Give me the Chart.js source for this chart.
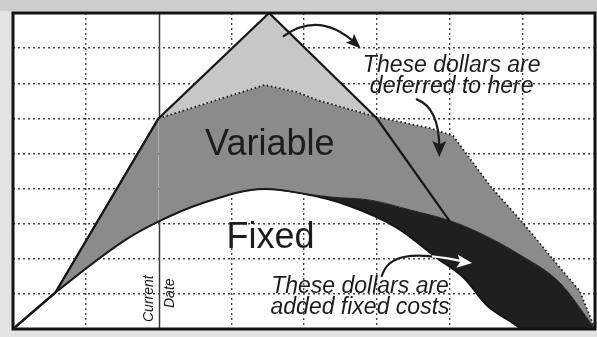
<!DOCTYPE html>
<html>
<head>
<meta charset="utf-8">
<script src="https://cdn.jsdelivr.net/npm/chart.js@4/dist/chart.umd.min.js"></script>
<style>
  html, body { margin: 0; padding: 0; background: #e2e2e2; }
  canvas { display: block; }
</style>
</head>
<body>
<canvas id="c" width="597" height="337"></canvas>
<script>
// Spending curve as originally planned (peak), in time units / dollar units
const peakX = [0, 0.58, 2.0, 3.52, 5.0, 6.0];
const peakY = [0, 1.03, 6.0, 9.0, 6.0, 3.08];

// Variable costs after deferral (top of the dark grey band)
const variableX = [0, 0.58, 2.0, 3.46, 3.9, 4.18, 5.0, 5.73, 6.05, 6.56, 7.01, 7.52, 7.79, 8.0];
const variableY = [0, 1.03, 6.0, 6.95, 6.75, 6.52, 6.04, 5.72, 5.5, 4.07, 3.02, 1.74, 1.08, 0];

// Fixed costs (top of the white area)
const fixedX = [0, 0.58, 1.54, 1.99, 2.57, 3.46, 3.95, 4.59, 5.28, 5.83, 6.2, 6.52, 6.83, 7.02, 8.0];
const fixedY = [0, 1.03, 2.53, 3.05, 3.56, 3.99, 3.87, 3.53, 2.88, 2.02, 1.45, 0.66, 0.23, 0, 0];

// Fixed costs including the added ones (top of the black band); follows the fixed curve until it splits
const addedX = fixedX.slice(0, 7).concat([4.36, 4.91, 5.46, 6.01, 6.42, 6.97, 7.52, 8.0]);
const addedY = fixedY.slice(0, 7).concat([3.76, 3.67, 3.39, 3.08, 2.73, 2.11, 1.31, 0]);

const currentDate = 2;

const xTicks = { min: 0, max: 8, step: 1 };
const yTicks = { min: 0, max: 9, step: 1 };

const pts = (xs, ys) => xs.map((x, i) => ({ x, y: ys[i] }));

const FONT = '"Liberation Sans", Arial, Helvetica, sans-serif';

// Background, white plot area and the current-date rule (below the fills)
const backdrop = {
  id: 'backdrop',
  beforeDraw(chart) {
    const { ctx, chartArea: a, scales } = chart;
    ctx.save();
    ctx.fillStyle = '#e3e3e3';
    ctx.fillRect(0, 0, chart.width, chart.height);
    ctx.fillStyle = '#cdcdcd';
    ctx.fillRect(0, 0, chart.width, a.top - 2);
    ctx.fillStyle = '#ffffff';
    ctx.fillRect(a.left, a.top, a.right - a.left, a.bottom - a.top);
    const x = Math.round(scales.x.getPixelForValue(currentDate)) + 0.5;
    ctx.strokeStyle = '#3a3a3a';
    ctx.lineWidth = 1.5;
    ctx.beginPath();
    ctx.moveTo(x, a.top);
    ctx.lineTo(x, a.bottom);
    ctx.stroke();
    ctx.restore();
  }
};

function arrowHead(ctx, tipX, tipY, fromX, fromY, len, half, color) {
  const ang = Math.atan2(tipY - fromY, tipX - fromX);
  ctx.save();
  ctx.translate(tipX, tipY);
  ctx.rotate(ang);
  ctx.fillStyle = color;
  ctx.beginPath();
  ctx.moveTo(0, 0);
  ctx.lineTo(-len, -half);
  ctx.lineTo(-len * 0.8, 0);
  ctx.lineTo(-len, half);
  ctx.closePath();
  ctx.fill();
  ctx.restore();
}

// Labels, arrows and frame
const notes = {
  id: 'notes',
  afterDraw(chart) {
    const { ctx, chartArea: a, scales } = chart;
    const X = v => scales.x.getPixelForValue(v);
    const Y = v => scales.y.getPixelForValue(v);
    ctx.save();

    ctx.fillStyle = '#1c1c1c';
    ctx.textAlign = 'center';
    ctx.textBaseline = 'alphabetic';
    ctx.font = '36px ' + FONT;
    ctx.fillText('Variable', X(3.53), Y(4.96));
    ctx.fillText('Fixed', X(3.54), Y(2.31));

    ctx.font = 'italic 23px ' + FONT;
    ctx.fillText('These dollars are', X(6.03), Y(7.32));
    ctx.fillText('deferred to here', X(6.03), Y(6.72));
    ctx.fillText('These dollars are', X(4.77), Y(1.03));
    ctx.fillText('added fixed costs', X(4.77), Y(0.44));

    // "Current | Date" written upwards on both sides of the rule
    ctx.font = 'italic 14px ' + FONT;
    ctx.textAlign = 'left';
    const cx = X(currentDate);
    ctx.save();
    ctx.translate(cx - 6, a.bottom - 7);
    ctx.rotate(-Math.PI / 2);
    ctx.fillText('Current', 0, 0);
    ctx.restore();
    ctx.save();
    ctx.translate(cx + 15, a.bottom - 21);
    ctx.rotate(-Math.PI / 2);
    ctx.fillText('Date', 0, 0);
    ctx.restore();

    ctx.lineWidth = 2.2;
    ctx.strokeStyle = '#1c1c1c';
    ctx.lineCap = 'round';

    // arrow: from the peak to the deferral note
    let p0 = [X(3.72), Y(8.34)], c = [X(4.22), Y(9.08)], p1 = [X(4.78), Y(7.99)];
    ctx.beginPath();
    ctx.moveTo(p0[0], p0[1]);
    ctx.quadraticCurveTo(c[0], c[1], p1[0] - 4, p1[1] - 4);
    ctx.stroke();
    arrowHead(ctx, p1[0], p1[1], c[0], c[1], 15, 6, '#1c1c1c');

    // arrow: from the note down into the deferred area
    p0 = [X(5.55), Y(6.54)]; c = [X(5.86), Y(6.3)]; p1 = [X(5.86), Y(4.9)];
    ctx.beginPath();
    ctx.moveTo(p0[0], p0[1]);
    ctx.quadraticCurveTo(c[0], c[1], p1[0], p1[1] - 8);
    ctx.stroke();
    arrowHead(ctx, p1[0], p1[1], c[0], c[1] - 10, 16, 7, '#1c1c1c');

    // arrow: from the note into the black band (white where it crosses the band)
    const s0 = [X(5.07), Y(1.51)], c1 = [X(5.15), Y(2.1)], c2 = [X(5.46), Y(2.25)], e = [X(6.31), Y(1.88)];
    const curve = () => {
      ctx.beginPath();
      ctx.moveTo(s0[0], s0[1]);
      ctx.bezierCurveTo(c1[0], c1[1], c2[0], c2[1], e[0] - 6, e[1] - 1);
    };
    curve();
    ctx.stroke();
    ctx.save();
    ctx.beginPath();
    ctx.rect(X(5.76), a.top, a.right - X(5.76), a.bottom - a.top);
    ctx.clip();
    ctx.strokeStyle = '#ffffff';
    curve();
    ctx.stroke();
    ctx.restore();
    arrowHead(ctx, e[0], e[1], c2[0], c2[1] + 6, 15, 6.5, '#ffffff');

    // frame
    ctx.lineWidth = 3;
    ctx.strokeStyle = '#141414';
    ctx.strokeRect(a.left, a.top, a.right - a.left, a.bottom - a.top);
    ctx.restore();
  }
};

const gridColor = (axis) => (ctx) => {
  const v = ctx.tick ? ctx.tick.value : null;
  const t = axis === 'x' ? xTicks : yTicks;
  if (v === t.min || v === t.max) return 'rgba(0,0,0,0)';
  if (axis === 'x' && v === currentDate) return 'rgba(0,0,0,0)';
  return '#4a4a4a';
};

new Chart(document.getElementById('c'), {
  type: 'line',
  data: {
    datasets: [
      {
        label: 'Planned',
        data: pts(peakX, peakY),
        borderColor: '#161616',
        borderWidth: 2.2,
        tension: 0,
        fill: { target: 1, above: '#c7c7c7', below: 'rgba(0,0,0,0)' }
      },
      {
        label: 'Variable',
        data: pts(variableX, variableY),
        borderColor: '#1e1e1e',
        borderWidth: 1.8,
        tension: 0,
        segment: { borderDash: c => c.p0.parsed.x >= currentDate ? [1.6, 2.6] : undefined },
        fill: { target: 2, above: '#8b8b8b', below: 'rgba(0,0,0,0)' }
      },
      {
        label: 'Added fixed',
        data: pts(addedX, addedY),
        borderColor: '#1f1f1f',
        borderWidth: 1,
        cubicInterpolationMode: 'monotone',
        fill: { target: 3, above: '#1f1f1f', below: 'rgba(0,0,0,0)' }
      },
      {
        label: 'Fixed',
        data: pts(fixedX, fixedY),
        borderColor: '#141414',
        borderWidth: 2,
        cubicInterpolationMode: 'monotone',
        fill: false
      }
    ]
  },
  options: {
    responsive: false,
    animation: false,
    events: [],
    layout: { padding: { left: 13, top: 13, right: 2, bottom: 8 } },
    elements: { point: { radius: 0 } },
    plugins: {
      legend: { display: false },
      tooltip: { enabled: false },
      filler: { drawTime: 'beforeDatasetsDraw' }
    },
    scales: {
      x: {
        type: 'linear',
        min: xTicks.min, max: xTicks.max,
        z: 1,
        ticks: { display: false, stepSize: xTicks.step },
        grid: { color: gridColor('x'), lineWidth: 1.4, drawTicks: false },
        border: { display: false, dash: [2, 3] }
      },
      y: {
        type: 'linear',
        min: yTicks.min, max: yTicks.max,
        z: 1,
        ticks: { display: false, stepSize: yTicks.step },
        grid: { color: gridColor('y'), lineWidth: 1.4, drawTicks: false },
        border: { display: false, dash: [2, 3] }
      }
    }
  },
  plugins: [backdrop, notes]
});
</script>
</body>
</html>
